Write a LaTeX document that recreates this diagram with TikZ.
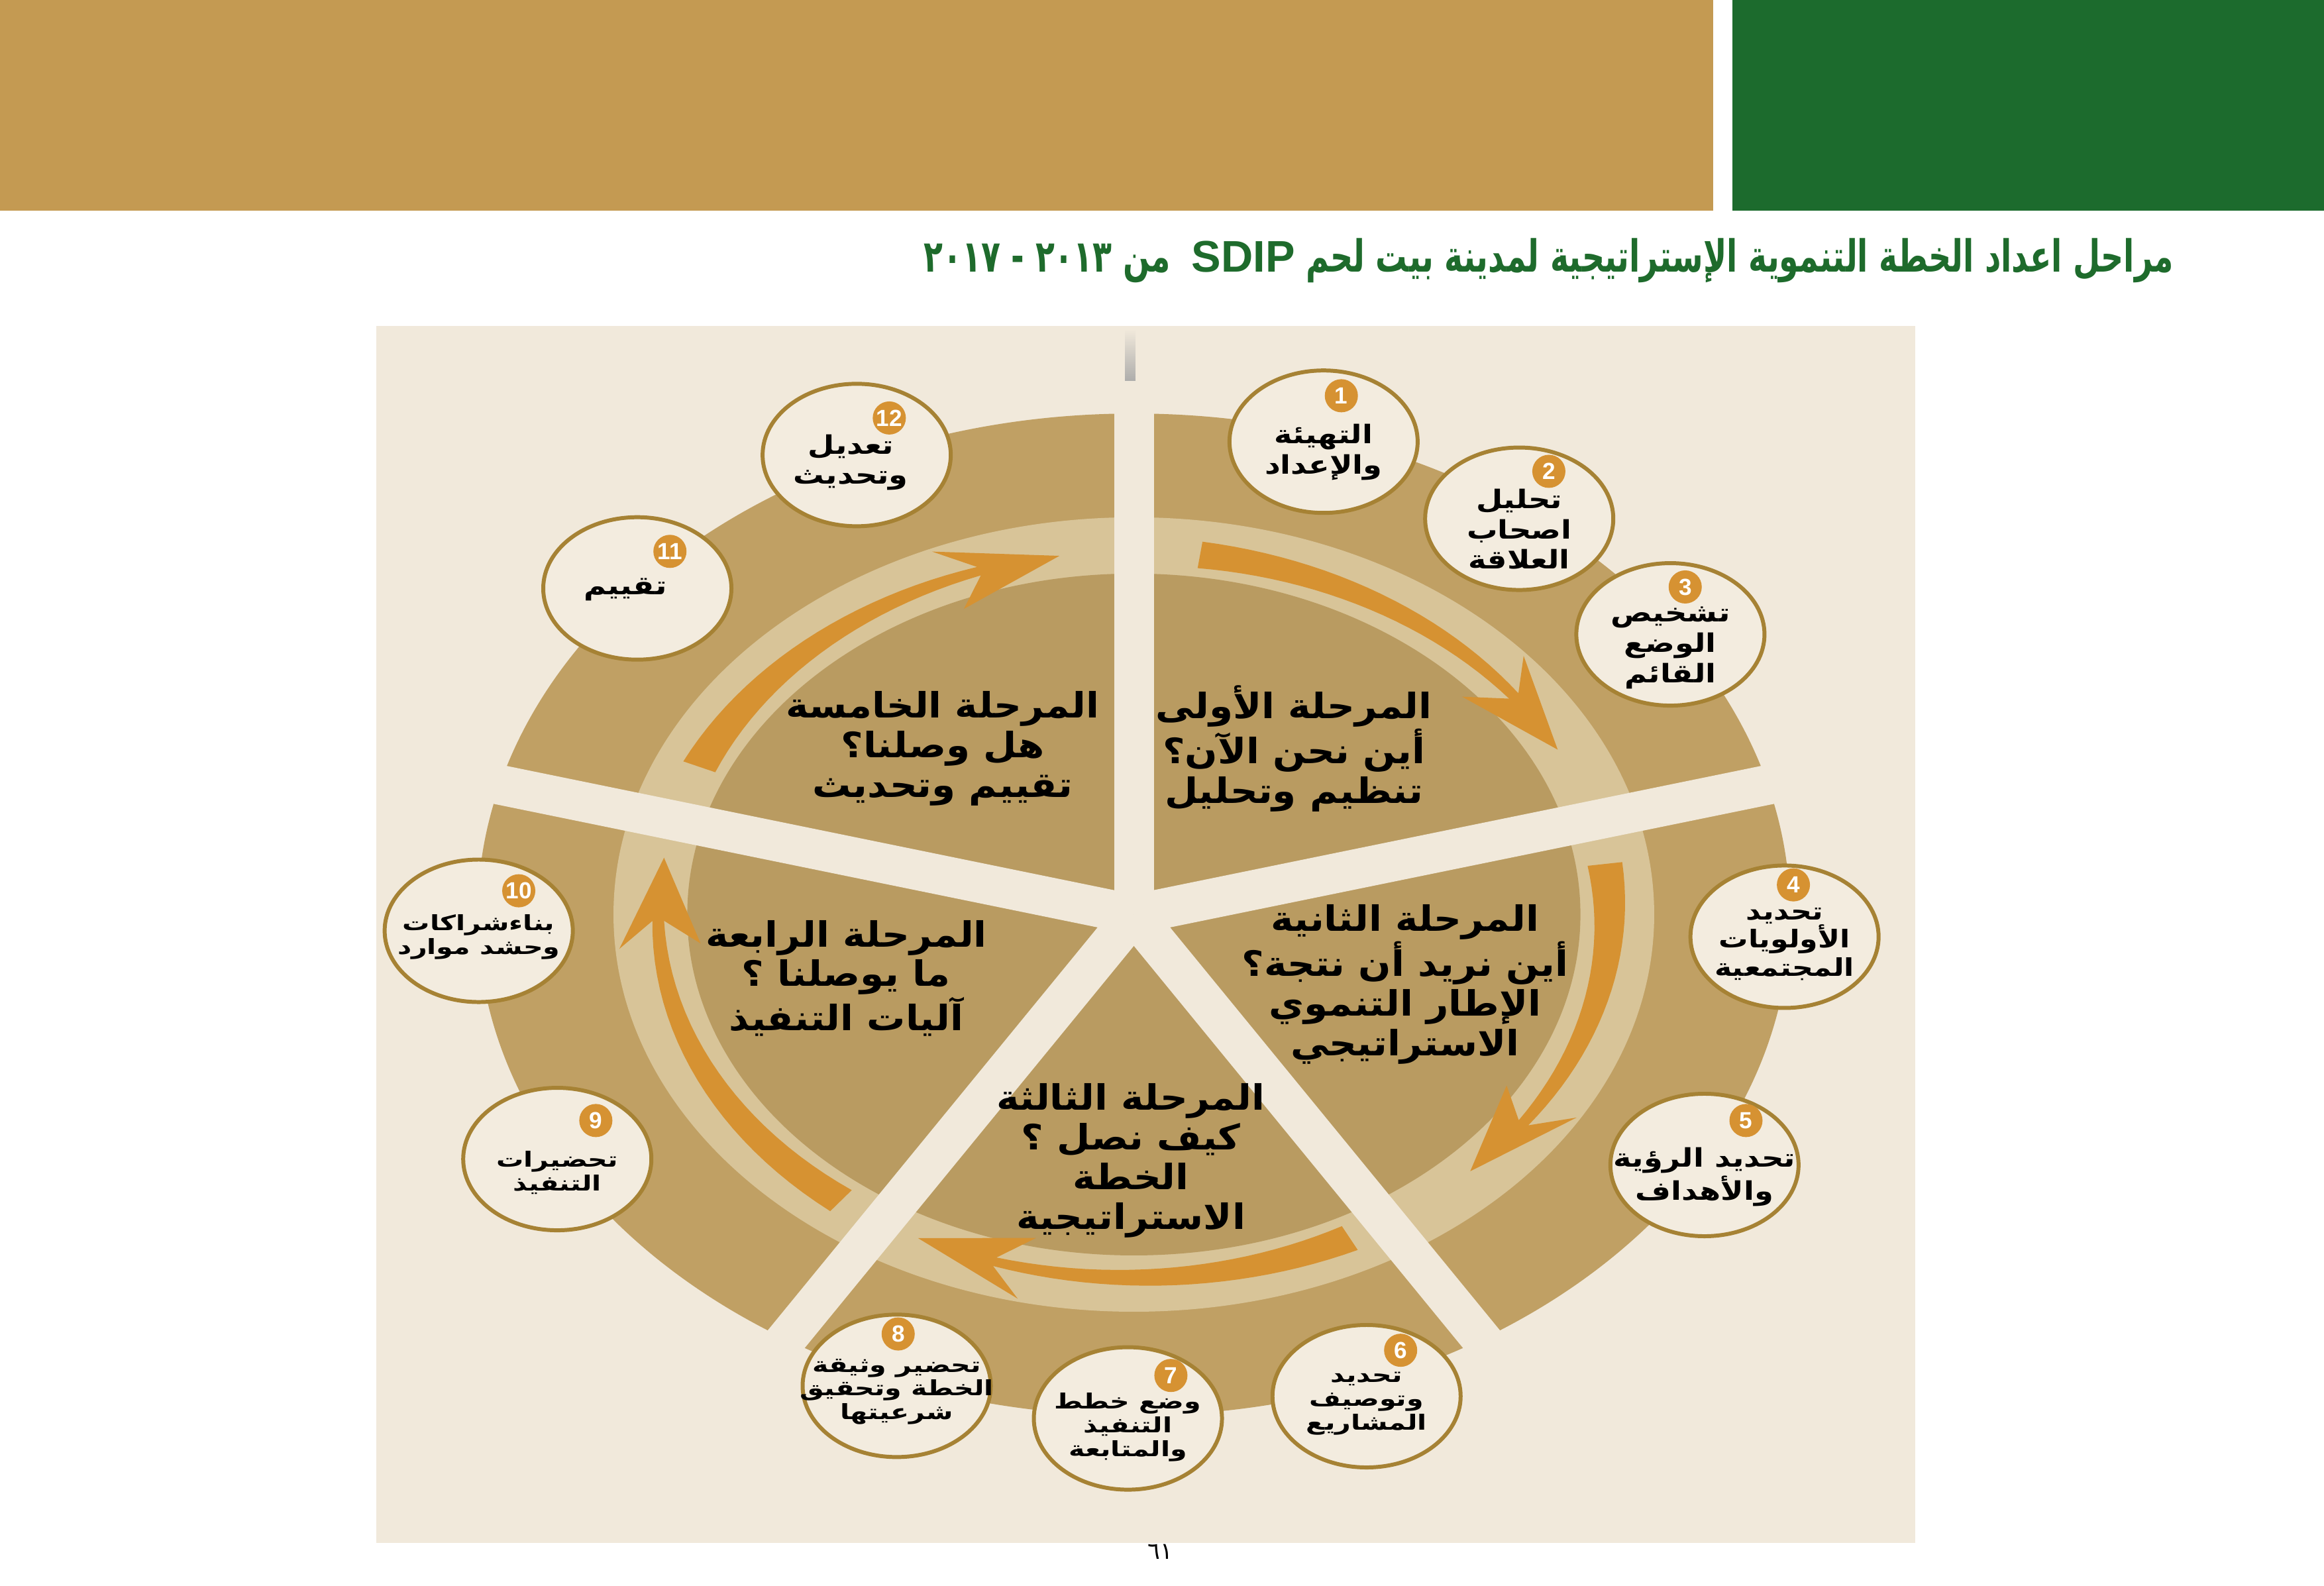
\documentclass[tikz,border=0pt]{standalone}
\usepackage{fontspec}
\usetikzlibrary{shapes}
\newfontfamily\arabicfont[Script=Arabic, FakeStretch=1.1]{DejaVu Sans}
\newfontfamily\stepfont[Script=Arabic, FakeStretch=1.2]{DejaVu Sans}
\newfontfamily\smallstepfont[Script=Arabic, FakeStretch=1.3]{DejaVu Sans}
\newfontfamily\titlefont[Script=Arabic, FakeStretch=0.71]{DejaVu Sans}
\newfontfamily\pagefont[Script=Arabic]{DejaVu Sans}
\newfontfamily\latinfont{Liberation Sans}
\TeXXeTstate=1
\newcommand{\rl}[1]{\beginR #1\endR}
\definecolor{goldbar}{HTML}{C49A52}
\definecolor{greenbar}{HTML}{1C6B2D}
\definecolor{titlegreen}{HTML}{1E6B2C}
\definecolor{panel}{HTML}{F1E9DB}
\definecolor{ringtan}{HTML}{C0A064}
\definecolor{disktan}{HTML}{B99B61}
\definecolor{bandtan}{HTML}{D8C498}
\definecolor{swoosh}{HTML}{D69232}
\definecolor{stepline}{HTML}{A68234}
\definecolor{stepfill}{HTML}{F3ECDF}

\begin{document}
\begin{tikzpicture}[x=0.2237mm, y=-0.2237mm]
\tikzstyle{stepbox} = [draw=stepline, fill=stepfill, ellipse, line width=1.7pt,
    minimum width=28.4mm, minimum height=21.5mm, inner sep=0pt]
\tikzstyle{badge} = [circle, fill=swoosh, text=white, minimum size=5mm,
    inner sep=0pt, font=\latinfont\bfseries\fontsize{10}{10}\selectfont]
\tikzstyle{steptext} = [align=center, inner sep=0pt,
    font=\stepfont\bfseries\fontsize{11}{13}\selectfont]
\tikzstyle{smalltext} = [steptext, font=\smallstepfont\bfseries\fontsize{9}{10.2}\selectfont]
\tikzstyle{phasetext} = [align=center, inner sep=0pt,
    font=\arabicfont\bfseries\fontsize{15}{17}\selectfont]
\tikzstyle{gap} = [draw=panel, line width=6mm]
    \useasboundingbox (0,0) rectangle (1568,1070);
    % We start with the coloured bars and the title
    \fill[goldbar] (0,0) rectangle (1156,142);
    \fill[greenbar] (1169,0) rectangle (1568,142);
    \node[anchor=east, text=titlegreen, inner sep=0pt,
        font=\titlefont\bfseries\fontsize{19}{24}\selectfont] (title) at (1467,176)
        {\rl{مراحل اعداد الخطة التنموية الإستراتيجية لمدينة بيت لحم {\latinfont\beginL SDIP\endL}\hspace{1.5mm} من \beginL ٢٠١٣\endL{} - \beginL ٢٠١٧\endL{}}};
    \fill[panel] (254,220) rectangle (1292,1041);
    \shade[top color=panel, bottom color=panel, middle color=black!35] (759,222) rectangle (766,300);

    % The wheel: ring, light band, inner disk, then the swooshes and the gaps
    \begin{scope}[shift={(765,617)}, xscale=1.31, yscale=-1]
        \fill[ringtan] (0,0) circle (338);
        \fill[bandtan] (0,0) circle (268);
        \fill[disktan] (0,0) circle (230);
        \foreach \s/\n in {82/37, 8/-35, -63/-107, 232/181, 156/109}
            \fill[swoosh] plot[domain=\s:\n, samples=25]
                (\x:{254-6*(\x-(\s))/((\n)-(\s))}) -- (\n+4:266) -- (\n-10:245)
                -- (\n+4:224) -- plot[domain=\n:\s, samples=25]
                (\x:{236+6*(\x-(\s))/((\n)-(\s))}) -- cycle;
        \foreach \a in {90,165,238,302,15}
            \draw[gap] (0,0) -- (\a:360);
    \end{scope}

    % The five phases
    \node[phasetext] (p1) at (873,505) {\rl{المرحلة الأولى}\\\rl{أين نحن الآن؟}\\\rl{تنظيم وتحليل}};
    \node[phasetext] (p2) at (948,664) {\rl{المرحلة الثانية}\\\rl{أين نريد أن نتجة؟}\\\rl{الإطار التنموي}\\\rl{الاستراتيجي}};
    \node[phasetext] (p3) at (763,783) {\rl{المرحلة الثالثة}\\\rl{كيف نصل ؟}\\\rl{الخطة}\\\rl{الاستراتيجية}};
    \node[phasetext] (p4) at (571,660) {\rl{المرحلة الرابعة}\\\rl{ما يوصلنا ؟}\\\rl{آليات التنفيذ}};
    \node[phasetext] (p5) at (636,505) {\rl{المرحلة الخامسة}\\\rl{هل وصلنا؟}\\\rl{تقييم وتحديث}};

    % The twelve steps round the wheel
    \node[stepbox] (s1) at (893,298) {};
    \node[badge] (b1) at (905,267) {1};
    \node[steptext] (t1) at (893,305) {\rl{التهيئة}\\\rl{والإعداد}};
    \node[stepbox] (s2) at (1025,350) {};
    \node[badge] (b2) at (1045,318) {2};
    \node[steptext] (t2) at (1025,357) {\rl{تحليل}\\\rl{اصحاب}\\\rl{العلاقة}};
    \node[stepbox] (s3) at (1127,428) {};
    \node[badge] (b3) at (1137,396) {3};
    \node[steptext] (t3) at (1127,437) {\rl{تشخيص}\\\rl{الوضع}\\\rl{القائم}};
    \node[stepbox] (s4) at (1204,632) {};
    \node[badge] (b4) at (1210,597) {4};
    \node[steptext, font=\stepfont\bfseries\fontsize{10.5}{12}\selectfont] (t4) at (1204,637) {\rl{تحديد}\\\rl{الأولويات}\\\rl{المجتمعية}};
    \node[stepbox] (s5) at (1150,786) {};
    \node[badge] (b5) at (1178,756) {5};
    \node[steptext] (t5) at (1150,794) {\rl{تحديد الرؤية}\\\rl{والأهداف}};
    \node[stepbox] (s6) at (922,942) {};
    \node[badge] (b6) at (945,911) {6};
    \node[smalltext] (t6) at (922,947) {\rl{تحديد}\\\rl{وتوصيف}\\\rl{المشاريع}};
    \node[stepbox] (s7) at (761,957) {};
    \node[badge] (b7) at (790,928) {7};
    \node[smalltext] (t7) at (761,963) {\rl{وضع خطط}\\\rl{التنفيذ}\\\rl{والمتابعة}};
    \node[stepbox] (s8) at (605,935) {};
    \node[badge] (b8) at (606,900) {8};
    \node[smalltext] (t8) at (605,939) {\rl{تحضير وثيقة}\\\rl{الخطة وتحقيق}\\\rl{شرعيتها}};
    \node[stepbox] (s9) at (376,782) {};
    \node[badge] (b9) at (402,756) {9};
    \node[smalltext] (t9) at (376,791) {\rl{تحضيرات}\\\rl{التنفيذ}};
    \node[stepbox] (s10) at (323,628) {};
    \node[badge] (b10) at (350,601) {10};
    \node[smalltext] (t10) at (323,632) {\rl{بناءشراكات}\\\rl{وحشد موارد}};
    \node[stepbox] (s11) at (430,397) {};
    \node[badge] (b11) at (452,372) {11};
    \node[steptext] (t11) at (422,398) {\rl{تقييم}};
    \node[stepbox] (s12) at (578,307) {};
    \node[badge] (b12) at (600,282) {12};
    \node[steptext] (t12) at (574,312) {\rl{تعديل}\\\rl{وتحديث}};

    % page number
    \node[font=\pagefont\fontsize{10}{10}\selectfont, inner sep=0pt] (page) at (783,1047) {٦١};
\end{tikzpicture}
\end{document}
